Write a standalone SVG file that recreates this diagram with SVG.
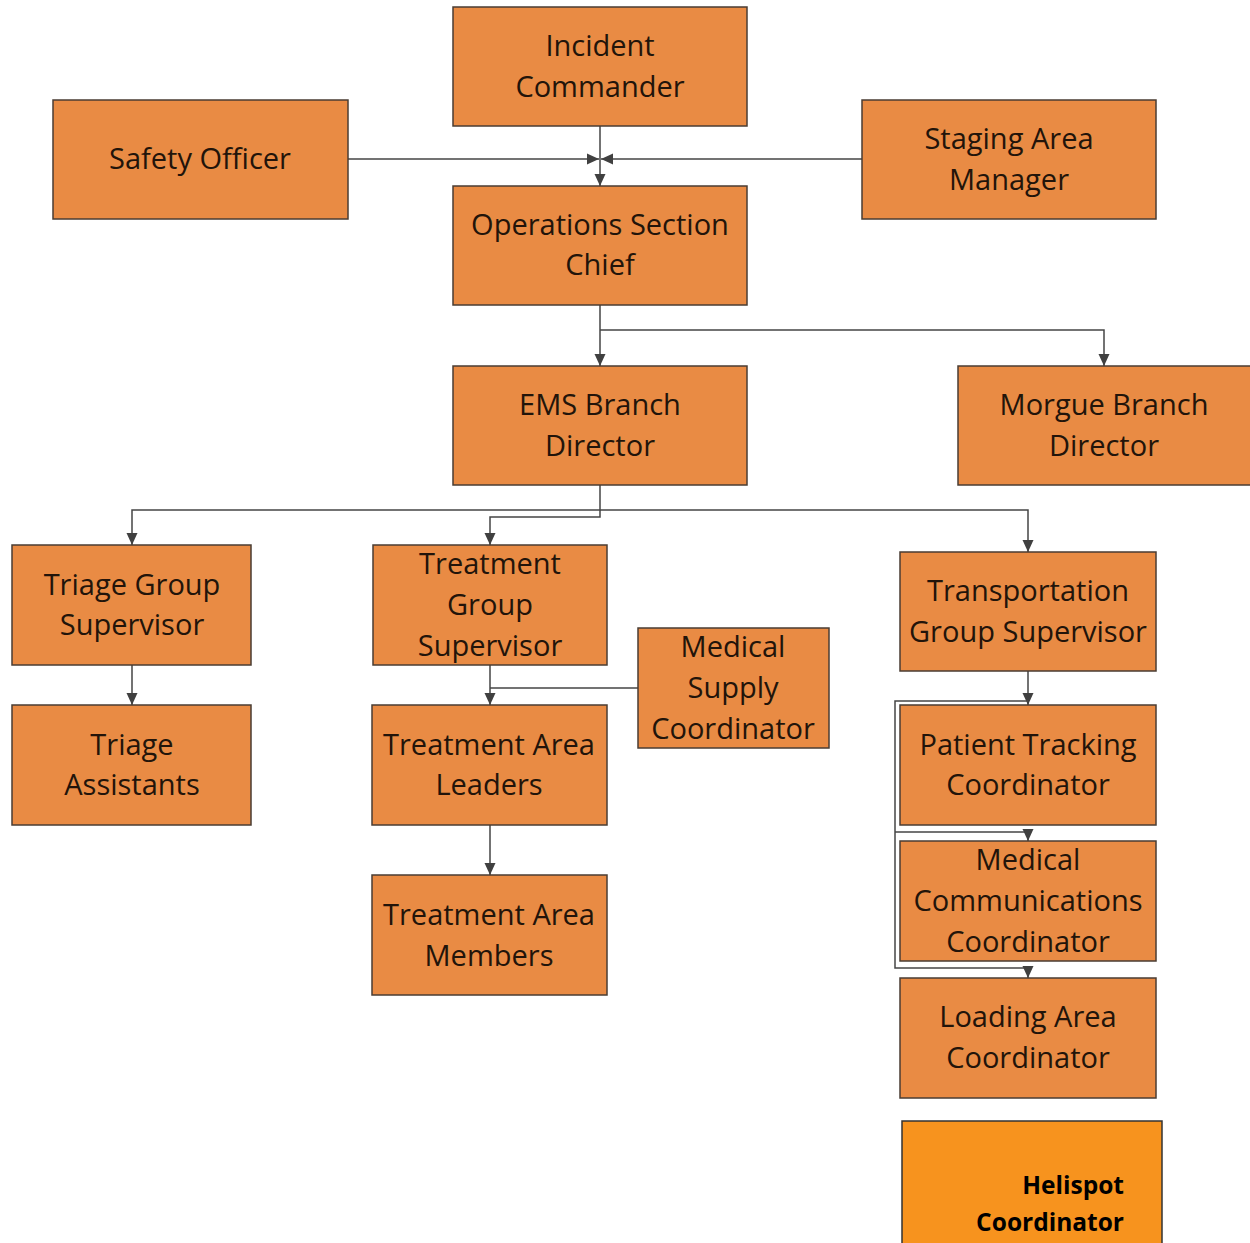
<svg xmlns="http://www.w3.org/2000/svg" width="1250" height="1243" viewBox="0 0 1250 1243">
  <style>
    .box { fill: #E98B44; stroke: #4a3d33; stroke-width: 1.5; }
    .hot { fill: #F7931E; stroke: #333333; stroke-width: 1.5; }
    .lbl { font-family: "Open Sans", "Liberation Sans", sans-serif; font-size: 29px; fill: #22140a; text-anchor: middle; }
    .bold { font-family: "Open Sans", "Liberation Sans", sans-serif; font-size: 24.5px; font-weight: bold; fill: #000000; text-anchor: end; }
    .wire { fill: none; stroke: #454545; stroke-width: 1.5; }
  </style>
  <defs>
    <marker id="arrow" viewBox="0 0 12 12" refX="12" refY="6" markerWidth="12" markerHeight="12" markerUnits="userSpaceOnUse" orient="auto">
      <path d="M0,0.5 L12,6 L0,11.5 z" fill="#404040"/>
    </marker>
  </defs>
  <rect width="1250" height="1243" fill="#ffffff"/>

  <g id="connectors">
    <path class="wire" d="M600,126 V186" marker-end="url(#arrow)"/>
    <path class="wire" d="M348,159 H599" marker-end="url(#arrow)"/>
    <path class="wire" d="M862,159 H601" marker-end="url(#arrow)"/>
    <path class="wire" d="M600,305 V366" marker-end="url(#arrow)"/>
    <path class="wire" d="M600,330 H1104 V366" marker-end="url(#arrow)"/>
    <path class="wire" d="M600,485 V510 H132 V545" marker-end="url(#arrow)"/>
    <path class="wire" d="M600,510 H1028 V552" marker-end="url(#arrow)"/>
    <path class="wire" d="M600,510 V517 H490 V545" marker-end="url(#arrow)"/>
    <path class="wire" d="M132,665 V705" marker-end="url(#arrow)"/>
    <path class="wire" d="M490,665 V705" marker-end="url(#arrow)"/>
    <path class="wire" d="M638,688 H490"/>
    <path class="wire" d="M490,825 V875" marker-end="url(#arrow)"/>
    <path class="wire" d="M1028,671 V705" marker-end="url(#arrow)"/>
    <path class="wire" d="M1028,701 H895 V968 H1028 V978" marker-end="url(#arrow)"/>
    <path class="wire" d="M895,832 H1028 V841" marker-end="url(#arrow)"/>
  </g>

  <g id="incident-commander">
    <rect class="box" x="453" y="7" width="294" height="119"/>
    <text class="lbl"><tspan x="600" y="56">Incident</tspan><tspan x="600" y="97">Commander</tspan></text>
  </g>
  <g id="safety-officer">
    <rect class="box" x="53" y="100" width="295" height="119"/>
    <text class="lbl" x="200" y="169">Safety Officer</text>
  </g>
  <g id="staging-area-manager">
    <rect class="box" x="862" y="100" width="294" height="119"/>
    <text class="lbl"><tspan x="1009" y="149">Staging Area</tspan><tspan x="1009" y="190">Manager</tspan></text>
  </g>
  <g id="operations-section-chief">
    <rect class="box" x="453" y="186" width="294" height="119"/>
    <text class="lbl"><tspan x="600" y="235">Operations Section</tspan><tspan x="600" y="275">Chief</tspan></text>
  </g>
  <g id="ems-branch-director">
    <rect class="box" x="453" y="366" width="294" height="119"/>
    <text class="lbl"><tspan x="600" y="415">EMS Branch</tspan><tspan x="600" y="456">Director</tspan></text>
  </g>
  <g id="morgue-branch-director">
    <rect class="box" x="958" y="366" width="294" height="119"/>
    <text class="lbl"><tspan x="1104" y="415">Morgue Branch</tspan><tspan x="1104" y="456">Director</tspan></text>
  </g>
  <g id="triage-group-supervisor">
    <rect class="box" x="12" y="545" width="239" height="120"/>
    <text class="lbl"><tspan x="132" y="595">Triage Group</tspan><tspan x="132" y="635">Supervisor</tspan></text>
  </g>
  <g id="triage-assistants">
    <rect class="box" x="12" y="705" width="239" height="120"/>
    <text class="lbl"><tspan x="132" y="755">Triage</tspan><tspan x="132" y="795">Assistants</tspan></text>
  </g>
  <g id="treatment-group-supervisor">
    <rect class="box" x="373" y="545" width="234" height="120"/>
    <text class="lbl"><tspan x="490" y="574">Treatment</tspan><tspan x="490" y="615">Group</tspan><tspan x="490" y="656">Supervisor</tspan></text>
  </g>
  <g id="medical-supply-coordinator">
    <rect class="box" x="638" y="628" width="191" height="120"/>
    <text class="lbl"><tspan x="733" y="657">Medical</tspan><tspan x="733" y="698">Supply</tspan><tspan x="733" y="739">Coordinator</tspan></text>
  </g>
  <g id="treatment-area-leaders">
    <rect class="box" x="372" y="705" width="235" height="120"/>
    <text class="lbl"><tspan x="489" y="755">Treatment Area</tspan><tspan x="489" y="795">Leaders</tspan></text>
  </g>
  <g id="treatment-area-members">
    <rect class="box" x="372" y="875" width="235" height="120"/>
    <text class="lbl"><tspan x="489" y="925">Treatment Area</tspan><tspan x="489" y="966">Members</tspan></text>
  </g>
  <g id="transportation-group-supervisor">
    <rect class="box" x="900" y="552" width="256" height="119"/>
    <text class="lbl"><tspan x="1028" y="601">Transportation</tspan><tspan x="1028" y="642">Group Supervisor</tspan></text>
  </g>
  <g id="patient-tracking-coordinator">
    <rect class="box" x="900" y="705" width="256" height="120"/>
    <text class="lbl"><tspan x="1028" y="755">Patient Tracking</tspan><tspan x="1028" y="795">Coordinator</tspan></text>
  </g>
  <g id="medical-communications-coordinator">
    <rect class="box" x="900" y="841" width="256" height="120"/>
    <text class="lbl"><tspan x="1028" y="870">Medical</tspan><tspan x="1028" y="911">Communications</tspan><tspan x="1028" y="952">Coordinator</tspan></text>
  </g>
  <g id="loading-area-coordinator">
    <rect class="box" x="900" y="978" width="256" height="120"/>
    <text class="lbl"><tspan x="1028" y="1027">Loading Area</tspan><tspan x="1028" y="1068">Coordinator</tspan></text>
  </g>
  <g id="helispot-coordinator">
    <rect class="hot" x="902" y="1121" width="260" height="140"/>
    <text class="bold"><tspan x="1124" y="1194">Helispot</tspan><tspan x="1124" y="1231">Coordinator</tspan></text>
  </g>
</svg>
